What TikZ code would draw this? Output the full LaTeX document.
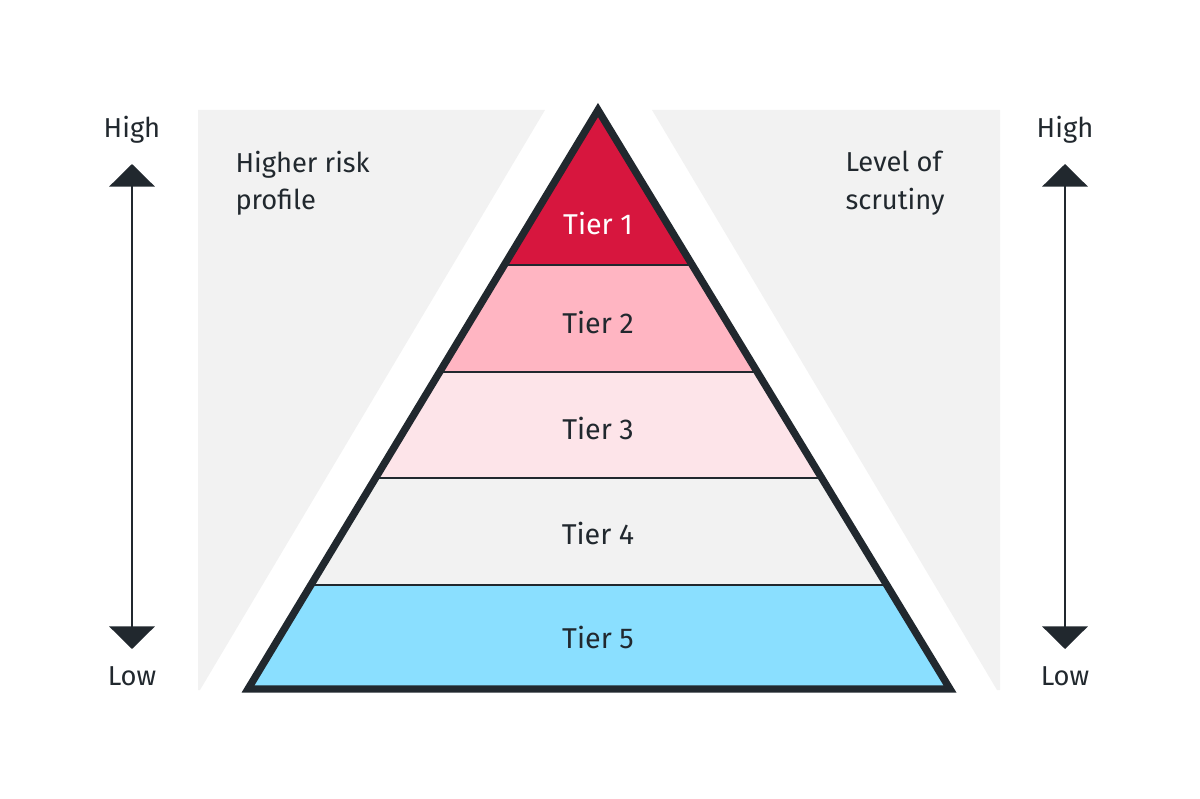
\documentclass[tikz,border=0pt]{standalone}
\usepackage{fontspec}
\setmainfont{Fira Sans}
\usetikzlibrary{arrows.meta}
\definecolor{ink}{RGB}{33,40,46}
\definecolor{panel}{RGB}{242,242,242}
\definecolor{tierA}{RGB}{215,22,62}
\definecolor{tierB}{RGB}{255,181,194}
\definecolor{tierC}{RGB}{253,228,233}
\definecolor{tierD}{RGB}{242,242,242}
\definecolor{tierE}{RGB}{138,223,255}
\tikzset{every picture/.style={line width=0.75pt}}
\tikzset{
  lbl/.style={font=\fontsize{20.5}{28}\selectfont, text=ink, inner sep=0pt},
  tierlbl/.style={font=\fontsize{21.5}{26}\selectfont, text=ink, inner sep=0pt},
  scale arrow/.style={ink, line width=2.2pt, {Triangle[width=34pt,length=17pt]}-{Triangle[width=34pt,length=17pt]}}
}
\begin{document}
\begin{tikzpicture}[x=0.75pt,y=0.75pt,yscale=-1,xscale=1]
\useasboundingbox (0,0) rectangle (1200,799);
% panels
\fill[panel] (198,110) -- (545,110) -- (200,690) -- (198,690) -- cycle;
\fill[panel] (652,110) -- (1000,110) -- (1000,690) -- (997,690) -- cycle;
% pyramid
\coordinate (apex) at (598,110);
\coordinate (bl) at (248,689);
\coordinate (br) at (950,689);
\begin{scope}
  \clip (apex) -- (br) -- (bl) -- cycle;
  \fill[tierA] (200,100) rectangle (1000,265);
  \fill[tierB] (200,265) rectangle (1000,372);
  \fill[tierC] (200,372) rectangle (1000,478);
  \fill[tierD] (200,478) rectangle (1000,585);
  \fill[tierE] (200,585) rectangle (1000,695);
  \foreach \y in {265,372,478,585}
    \draw[ink, line width=2.2pt] (200,\y) -- (1000,\y);
\end{scope}
\draw[ink, line width=5.5pt, line join=miter] (apex) -- (br) -- (bl) -- cycle;
% tier labels
\node[tierlbl, text=white] (t1) at (598,223) {Tier 1};
\node[tierlbl] (t2) at (598,322) {Tier 2};
\node[tierlbl] (t3) at (598,428) {Tier 3};
\node[tierlbl] (t4) at (598,533) {Tier 4};
\node[tierlbl] (t5) at (598,637) {Tier 5};
% side scales
\node[lbl] (hiL) at (132,130) {High};
\node[lbl] (loL) at (132,676) {Low};
\node[lbl] (hiR) at (1065,130) {High};
\node[lbl] (loR) at (1065,676) {Low};
\coordinate (aLt) at (132,164);
\coordinate (aLb) at (132,649);
\coordinate (aRt) at (1065,164);
\coordinate (aRb) at (1065,649);
\draw[scale arrow] (aLt) -- (aLb);
\draw[scale arrow] (aRt) -- (aRb);
% panel captions
\node[lbl, anchor=west, align=left] (risk) at (235,183) {Higher risk\\profile};
\node[lbl, anchor=west, align=left] (scrutiny) at (845,183) {Level of\\scrutiny};
\end{tikzpicture}
\end{document}
